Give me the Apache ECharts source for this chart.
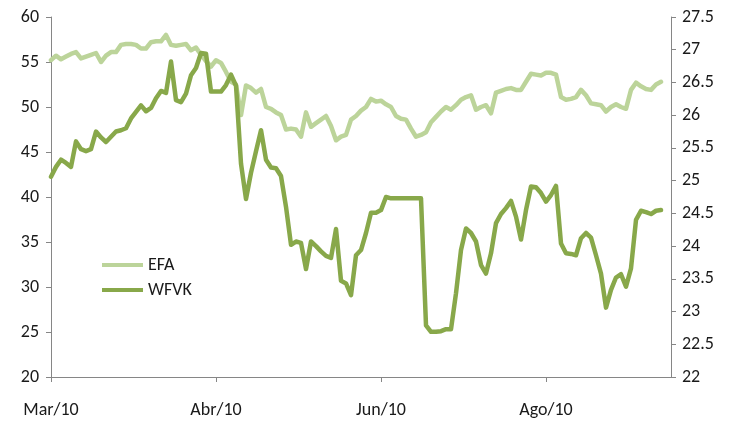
<!DOCTYPE html>
<html>
<head>
<meta charset="utf-8">
<script src="https://cdn.jsdelivr.net/npm/echarts@6/dist/echarts.min.js"></script>
<style>
html, body { margin: 0; padding: 0; background: #fff; }
#chart { width: 732px; height: 425px; }
</style>
</head>
<body>
<div id="chart"></div>
<script>
// etiquetas del eje x (una cada 33 puntos)
const tickLabels = ['Mar/10', 'Abr/10', 'Jun/10', 'Ago/10'];
const tickStep = 33;
const nCats = 125;

// EFA (eje izquierdo)
const efa = [
  55.2, 55.7, 55.3, 55.6, 55.9, 56.1, 55.4, 55.6, 55.8, 56.0,
  55.0, 55.7, 56.1, 56.1, 56.9, 57.0, 57.0, 56.9, 56.5, 56.5,
  57.2, 57.3, 57.3, 58.0, 56.9, 56.8, 56.9, 57.0, 56.3, 56.6,
  55.8, 55.1, 54.5, 55.2, 54.9, 53.9, 52.8, 52.5, 49.1, 52.4,
  52.1, 51.6, 52.0, 50.0, 49.8, 49.4, 49.1, 47.5, 47.6, 47.5,
  46.7, 49.4, 47.8, 48.2, 48.6, 49.0, 47.9, 46.3, 46.7, 46.9,
  48.6, 49.0, 49.6, 50.0, 50.9, 50.6, 50.7, 50.3, 50.0, 49.0,
  48.7, 48.6, 47.6, 46.7, 46.9, 47.2, 48.3, 48.9, 49.5, 50.0,
  49.7, 50.2, 50.8, 51.1, 51.3, 49.7, 50.0, 50.2, 49.3, 51.6,
  51.8, 52.0, 52.1, 51.9, 51.9, 52.8, 53.7, 53.6, 53.5, 53.8,
  53.8, 53.6, 51.1, 50.8, 50.9, 51.1, 51.9, 51.3, 50.4, 50.3,
  50.2, 49.5, 50.0, 50.3, 50.0, 49.8, 51.9, 52.7, 52.3, 52.0,
  51.9, 52.5, 52.8
];

// WFVK (eje derecho)
const wfvk = [
  25.06, 25.21, 25.32, 25.27, 25.21, 25.60, 25.48, 25.45, 25.48, 25.75,
  25.66, 25.59, 25.67, 25.75, 25.77, 25.80, 25.95, 26.05, 26.15, 26.06,
  26.11, 26.26, 26.37, 26.34, 26.82, 26.23, 26.20, 26.33, 26.61, 26.72,
  26.95, 26.94, 26.36, 26.36, 26.36, 26.46, 26.62, 26.45, 25.26, 24.72,
  25.12, 25.45, 25.77, 25.32, 25.20, 25.19, 25.07, 24.60, 24.02, 24.07,
  24.05, 23.65, 24.07, 24.00, 23.92, 23.85, 23.82, 24.26, 23.47, 23.43,
  23.25, 23.86, 23.94, 24.20, 24.51, 24.51, 24.55, 24.75, 24.73, 24.73,
  24.73, 24.73, 24.73, 24.73, 24.73, 22.79, 22.69, 22.69, 22.70, 22.73,
  22.73, 23.28, 23.94, 24.27, 24.20, 24.07, 23.71, 23.58, 23.89, 24.35,
  24.49, 24.58, 24.69, 24.45, 24.10, 24.55, 24.91, 24.90, 24.81, 24.68,
  24.78, 24.92, 24.04, 23.89, 23.88, 23.86, 24.12, 24.20, 24.13, 23.86,
  23.58, 23.06, 23.33, 23.52, 23.57, 23.38, 23.66, 24.40, 24.54, 24.52,
  24.49, 24.54, 24.55
];

const cats = Array.from({length: nCats}, (_, i) => String(i));

const font = 'Carlito, Lato, sans-serif';
const axisGrey = '#868686';

let myChart = echarts.init(document.getElementById('chart'));
myChart.setOption({
    animation: false,
    color: ['#bcd49a', '#88a84a'],
    textStyle: { fontFamily: font },
    grid: { left: 51, right: 61, top: 17, bottom: 48 },
    legend: {
        orient: 'vertical',
        left: 97,
        top: 250,
        icon: 'rect',
        itemWidth: 41,
        itemHeight: 4,
        itemGap: 5,
        textStyle: { fontFamily: font, fontSize: 18, lineHeight: 20, color: '#1a1a1a' },
        data: ['EFA', 'WFVK']
    },
    xAxis: {
        type: 'category',
        boundaryGap: false,
        data: cats,
        axisLine: { lineStyle: { color: axisGrey, width: 1 } },
        axisTick: { interval: tickStep - 1, length: 5, lineStyle: { color: axisGrey } },
        axisLabel: {
            interval: tickStep - 1,
            margin: 24,
            fontFamily: font,
            fontSize: 18,
            color: '#1a1a1a',
            formatter: (v, idx) => tickLabels[idx / tickStep] || ''
        },
        splitLine: { show: false }
    },
    yAxis: [
        {
            type: 'value',
            min: 20, max: 60, interval: 5,
            position: 'left',
            axisLine: { show: true, lineStyle: { color: axisGrey } },
            axisTick: { show: true, length: 5, lineStyle: { color: axisGrey } },
            axisLabel: { margin: 12, fontFamily: font, fontSize: 18, color: '#1a1a1a' },
            splitLine: { show: false }
        },
        {
            type: 'value',
            min: 22, max: 27.5, interval: 0.5,
            position: 'right',
            axisLine: { show: true, lineStyle: { color: axisGrey } },
            axisTick: { show: true, length: 5, lineStyle: { color: axisGrey } },
            axisLabel: { margin: 11, fontFamily: font, fontSize: 18, color: '#1a1a1a' },
            splitLine: { show: false }
        }
    ],
    series: [
        {
            name: 'EFA',
            type: 'line',
            yAxisIndex: 0,
            data: efa,
            symbol: 'none',
            lineStyle: { width: 4.5, join: 'round', cap: 'round' }
        },
        {
            name: 'WFVK',
            type: 'line',
            yAxisIndex: 1,
            data: wfvk,
            symbol: 'none',
            lineStyle: { width: 4.5, join: 'round', cap: 'round' }
        }
    ]
});
</script>
</body>
</html>
